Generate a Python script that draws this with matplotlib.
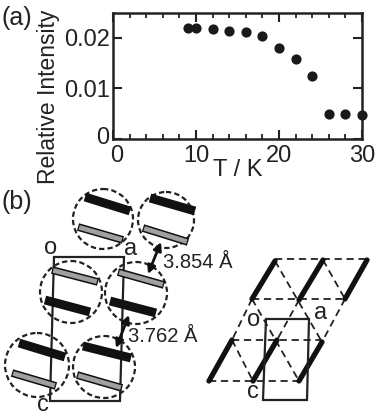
import matplotlib
matplotlib.use('Agg')
import matplotlib.pyplot as plt
from matplotlib.patches import Circle, Polygon
from matplotlib.transforms import ScaledTranslation

plt.rcParams['font.family'] = ['Liberation Sans', 'DejaVu Sans']

# panel (a)
temps = [9, 10, 12, 14, 16, 18, 20, 22, 24, 26, 28, 30]
intensity = [0.0219, 0.0219, 0.0217, 0.0213, 0.0211, 0.0203, 0.0180, 0.0158, 0.0124, 0.0049, 0.0049, 0.0047]
xticks = [0, 10, 20, 30]
yticks = [0, 0.01, 0.02]
yticklabels = ['0', '0.01', '0.02']

# panel (b), schematic positions in image pixels
circles = [(103, 219, 30), (166, 220, 28), (71, 292, 31), (136, 293, 31), (37, 365, 32), (104, 367, 31)]
black_bars = [((85, 197), (130, 211)), ((150, 198), (195, 211)), ((45, 300), (90, 312)),
              ((110, 301), (156, 313)), ((19, 343), (65, 357)), ((83, 346), (131, 358))]
gray_bars = [((78, 227), (123, 240)), ((143, 228), (188, 242)), ((52, 270), (98, 282)),
             ((118, 272), (164, 285)), ((12, 373), (56, 386)), ((77, 375), (122, 388))]
cell_left = [(54, 257), (124, 257), (120, 401), (50, 401)]
arrows = [((161, 242), (148, 274)), ((129, 315), (116, 348))]

thick_right = [((275, 261), (252, 299)), ((323, 260), (299, 300)), ((367, 260), (345, 299)),
               ((232, 340), (209, 381)), ((277, 340), (253, 381)), ((322, 342), (299, 381))]
dashed_right = [((275, 259), (367, 259)), ((252, 299), (345, 299)), ((232, 340), (322, 340)), ((209, 381), (299, 381)),
                ((252, 299), (232, 340)), ((299, 300), (277, 340)), ((345, 299), (322, 342)),
                ((275, 261), (322, 342)), ((323, 260), (345, 299)), ((252, 299), (299, 381)), ((232, 340), (253, 381))]
cell_right = [(266, 319), (309, 319), (307, 400), (263, 400)]

fig = plt.figure(figsize=(3.82, 4.18), dpi=100)
W, H = 382.0, 418.0

ax = fig.add_axes([113 / W, 1 - 139 / H, 249 / W, 126.5 / H])
ax.scatter(temps, intensity, s=54, color='#1a1a1a', clip_on=False, zorder=3, linewidths=0)
ax.set_xlim(0, 30)
ax.set_ylim(0, 0.025)
ax.set_xticks(xticks)
ax.set_xticks(range(0, 31, 2), minor=True)
ax.set_yticks(yticks)
ax.set_yticklabels(yticklabels)
ax.tick_params(which='major', direction='in', top=True, right=True, length=6.5, width=1.5, labelsize=17, color='#222222', labelcolor='#222222')
ax.tick_params(which='minor', direction='in', top=True, length=3.6, width=1.3, color='#222222')
ax.tick_params(axis='x', pad=4)
ax.tick_params(axis='y', pad=2.5)
for s in ax.spines.values():
    s.set_linewidth(1.8)
    s.set_color('#222222')

# the two zeros sit apart from the corner, as in the original
fig.canvas.draw()
xlab0 = ax.get_xticklabels()[0]
xlab0.set_transform(xlab0.get_transform() + ScaledTranslation(4 / 100, 0, fig.dpi_scale_trans))
ylab0 = ax.get_yticklabels()[0]
ylab0.set_transform(ylab0.get_transform() + ScaledTranslation(0, 4 / 100, fig.dpi_scale_trans))

# overlay in pixel coordinates for the schematic and free text
ov = fig.add_axes([0, 0, 1, 1], facecolor='none')
ov.set_xlim(0, W)
ov.set_ylim(H, 0)
ov.axis('off')

TXT = '#222222'
ov.text(49, 97, 'Relative Intensity', rotation=90, ha='center', va='center', fontsize=16.5, color=TXT)
ov.text(238, 170, 'T / K', ha='center', va='center', fontsize=17, color=TXT)
ov.text(17, 18, '(a)', ha='center', va='center', fontsize=18, color=TXT)
ov.text(17, 202, '(b)', ha='center', va='center', fontsize=18, color=TXT)

ov.add_patch(Polygon(cell_left, closed=True, fill=False, ec='#222222', lw=1.6, zorder=1))
for cx, cy, r in circles:
    ov.add_patch(Circle((cx, cy), r, fill=False, ec='#222222', lw=1.6, ls=(0, (2.4, 1.4)), zorder=2))
for p, q in black_bars:
    ov.plot([p[0], q[0]], [p[1], q[1]], color='#111111', lw=6.4, solid_capstyle='butt', zorder=3)
for p, q in gray_bars:
    ov.plot([p[0], q[0]], [p[1], q[1]], color='#111111', lw=5.6, solid_capstyle='butt', zorder=3)
    ov.plot([p[0] + 1.2, q[0] - 1.2], [p[1] + 0.4, q[1] - 0.4], color='#a0a0a0', lw=3.4, solid_capstyle='butt', zorder=4)
for p, q in arrows:
    ov.annotate('', xy=q, xytext=p, zorder=5,
                arrowprops=dict(arrowstyle='<|-|>', color='#111111', lw=2, shrinkA=0, shrinkB=0, mutation_scale=12))

ov.text(163, 262, '3.854 Å', ha='left', va='center', fontsize=14.5, color=TXT)
ov.text(128, 337, '3.762 Å', ha='left', va='center', fontsize=14.5, color=TXT)
ov.text(51, 248, 'o', ha='center', va='center', fontsize=17, color=TXT)
ov.text(131, 249, 'a', ha='center', va='center', fontsize=17, color=TXT)
ov.text(43, 405, 'c', ha='center', va='center', fontsize=17, color=TXT)

for p, q in dashed_right:
    ov.plot([p[0], q[0]], [p[1], q[1]], color='#222222', lw=1.3, ls=(0, (4, 2.6)), zorder=2)
for p, q in thick_right:
    ov.plot([p[0], q[0]], [p[1], q[1]], color='#111111', lw=3.8, solid_capstyle='round', zorder=3)
ov.add_patch(Polygon(cell_right, closed=True, fill=False, ec='#222222', lw=1.6, zorder=4))
ov.text(254, 320, 'o', ha='center', va='center', fontsize=17, color=TXT)
ov.text(321, 313, 'a', ha='center', va='center', fontsize=17, color=TXT)
ov.text(253, 392, 'c', ha='center', va='center', fontsize=17, color=TXT)

fig.savefig('out.png', dpi=100)
